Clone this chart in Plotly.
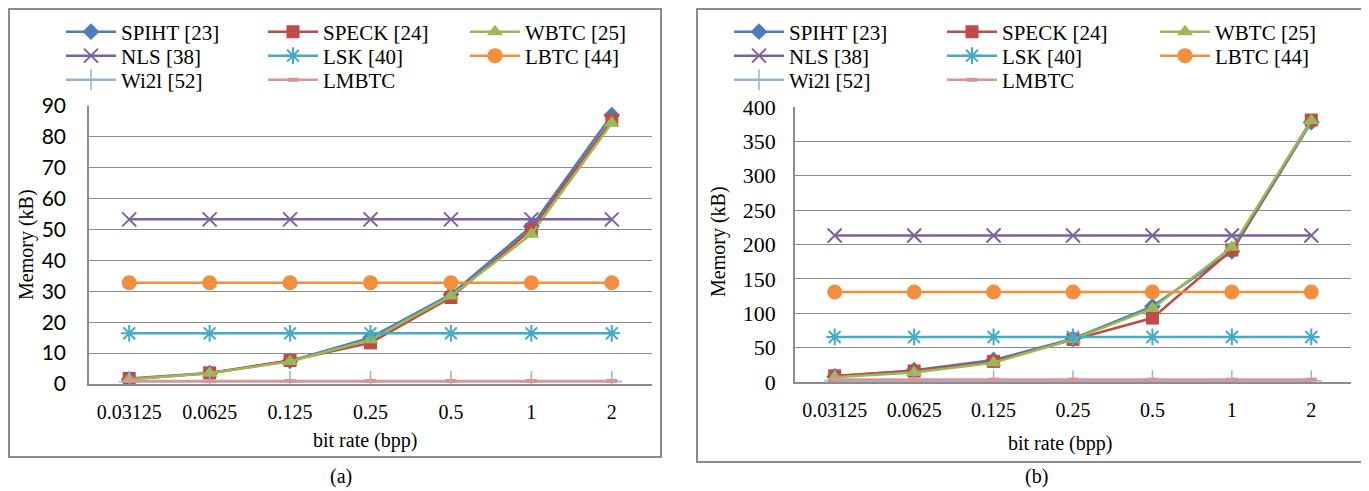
import plotly.graph_objects as go

W, H = 1369, 491
OFF = 8  # page body margin offset

categories = ["0.03125", "0.0625", "0.125", "0.25", "0.5", "1", "2"]
series_names = ["SPIHT [23]", "SPECK [24]", "WBTC [25]", "NLS [38]",
                "LSK [40]", "LBTC [44]", "Wi2l [52]", "LMBTC"]

# Panel (a)
a_spiht = [1.5, 3.5, 7.5, 15.0, 29.0, 51.0, 87.0]
a_speck = [1.8, 3.6, 7.6, 13.3, 28.0, 50.0, 85.5]
a_wbtc = [1.5, 3.5, 7.3, 14.3, 28.5, 48.5, 84.5]
a_nls = [53.3, 53.3, 53.3, 53.3, 53.3, 53.3, 53.3]
a_lsk = [16.4, 16.4, 16.4, 16.4, 16.4, 16.4, 16.4]
a_lbtc = [32.8, 32.8, 32.8, 32.8, 32.8, 32.8, 32.8]
a_wi2l = [0.8, 0.8, 0.8, 0.8, 0.8, 0.8, 0.8]
a_lmbtc = [1.0, 1.0, 1.0, 1.0, 1.0, 1.0, 1.0]

# Panel (b)
b_spiht = [8, 17, 32, 63, 110, 190, 378]
b_speck = [9, 16, 30, 62, 93, 192, 381]
b_wbtc = [7, 14, 28, 62, 107, 196, 380]
b_nls = [213, 213, 213, 213, 213, 213, 213]
b_lsk = [65.5, 65.5, 65.5, 65.5, 65.5, 65.5, 65.5]
b_lbtc = [131, 131, 131, 131, 131, 131, 131]
b_wi2l = [2, 2, 2, 2, 2, 2, 2]
b_lmbtc = [3.5, 3.5, 3.5, 3.5, 3.5, 3.5, 3.5]

a_values = [a_spiht, a_speck, a_wbtc, a_nls, a_lsk, a_lbtc, a_wi2l, a_lmbtc]
b_values = [b_spiht, b_speck, b_wbtc, b_nls, b_lsk, b_lbtc, b_wi2l, b_lmbtc]

colors = ["#4A7EBB", "#BE4B48", "#98B954", "#7D60A0",
          "#46AAC5", "#F28E3C", "#95B3D7", "#D99694"]
markers = [
    dict(symbol="diamond", size=13),
    dict(symbol="square", size=13),
    dict(symbol="triangle-up", size=14),
    dict(symbol="x-thin-open", size=14, line=dict(width=2)),
    dict(symbol="asterisk-open", size=14, line=dict(width=2)),
    dict(symbol="circle", size=15),
    dict(symbol="cross-thin-open", size=15, line=dict(width=1.5)),
    dict(symbol="line-ew-open", size=8, line=dict(width=4)),
]
legend_row = [0, 0, 0, 1, 1, 1, 2, 2]

SERIF = "Liberation Serif, Times New Roman, serif"
SANS = "Lato, Carlito, Calibri, sans-serif"
GRID = "#8C8C8C"

fig = go.Figure()

for panel, (vals, xa, ya, legbase) in enumerate(
        [(a_values, "x", "y", 1), (b_values, "x2", "y2", 4)]):
    for i, name in enumerate(series_names):
        mk = dict(markers[i])
        mk["color"] = colors[i]
        if "line" in mk:
            mk["line"] = dict(mk["line"], color=colors[i])
        lg = legbase + legend_row[i]
        fig.add_trace(go.Scatter(
            x=categories, y=vals[i], name=name, mode="lines+markers",
            line=dict(color=colors[i], width=2.5), marker=mk,
            xaxis=xa, yaxis=ya,
            legend="legend" if lg == 1 else f"legend{lg}",
        ))

def px_x(p):
    return (p - OFF) / W

def px_y(p):
    return 1 - (p - OFF) / H

common_x = dict(type="category", range=[-0.5, 6.5], showgrid=False,
                showline=True, linecolor=GRID, linewidth=1.5, ticks="",
                tickfont=dict(family=SERIF, size=20, color="#000"),
                ticklabelstandoff=9, zeroline=False, automargin=False)
common_y = dict(showgrid=True, gridcolor=GRID, gridwidth=1, showline=True,
                linecolor=GRID, linewidth=1.5, ticks="", zeroline=False,
                automargin=False)

layout = dict(
    width=W, height=H, margin=dict(l=0, r=0, t=0, b=0, autoexpand=False),
    paper_bgcolor="white", plot_bgcolor="white",
    xaxis=dict(common_x, domain=[px_x(89), px_x(652)], anchor="y"),
    yaxis=dict(common_y, domain=[px_y(384), px_y(106)], anchor="x",
               range=[0, 90], dtick=10, ticklabelstandoff=17,
               tickfont=dict(family=SANS, size=21, color="#000")),
    xaxis2=dict(common_x, domain=[px_x(795), px_x(1351)], anchor="y2"),
    yaxis2=dict(common_y, domain=[px_y(382), px_y(107)], anchor="x2",
                range=[0, 400], dtick=50, ticklabelstandoff=13,
                tickfont=dict(family=SERIF, size=22, color="#000")),
)

# legends: three rows per panel
leg_rows_y = [24 + OFF, 48 + OFF, 72 + OFF]
leg_cfg = {1: (53 + OFF, 137), 4: (721 + OFF, 148)}
for base in (1, 4):
    lx, ew = leg_cfg[base]
    for r in range(3):
        key = "legend" if base + r == 1 else f"legend{base + r}"
        layout[key] = dict(
            orientation="h", x=px_x(lx), xanchor="left",
            y=px_y(leg_rows_y[r]), yanchor="middle",
            entrywidth=ew, entrywidthmode="pixels", itemwidth=50,
            font=dict(family=SERIF, size=21, color="#000"),
            bgcolor="rgba(0,0,0,0)", borderwidth=0,
            tracegroupgap=0,
        )

fig.update_layout(**layout)

# panel frames
for (x0, y0, x1, y1) in [(9, 9, 661, 457), (697, 9, 1363, 462)]:
    fig.add_shape(type="rect", xref="paper", yref="paper",
                  x0=px_x(x0), x1=px_x(x1), y0=px_y(y1), y1=px_y(y0),
                  line=dict(color="#8C8C8C", width=2), layer="below")

annos = [
    ("Memory (kB)", 26, 245, -90),
    ("Memory (kB)", 718, 242, -90),
    ("bit rate (bpp)", 365, 440, 0),
    ("bit rate (bpp)", 1060, 443, 0),
    ("(a)", 341, 476, 0),
    ("(b)", 1036, 476, 0),
]
for text, x, y, ang in annos:
    fig.add_annotation(text=text, xref="paper", yref="paper",
                       x=px_x(x), y=px_y(y), xanchor="center",
                       yanchor="middle", showarrow=False, textangle=ang,
                       font=dict(family=SERIF, size=20, color="#000"))

fig.write_html("out.html")
